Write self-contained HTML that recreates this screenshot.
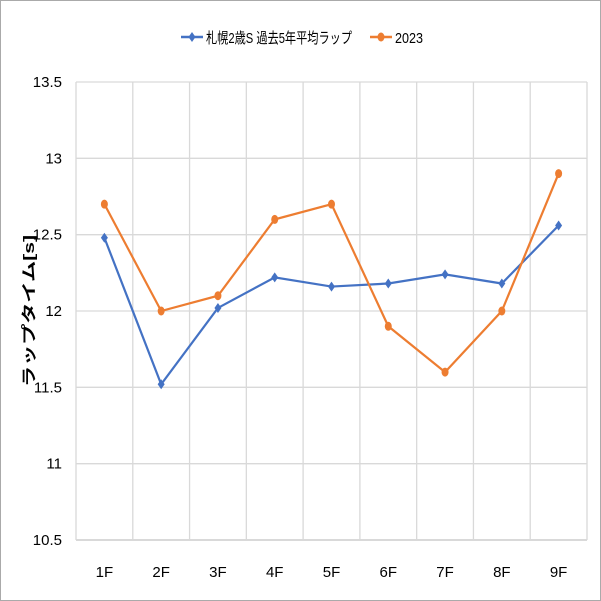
<!DOCTYPE html>
<html><head><meta charset="utf-8"><style>
body{margin:0;background:#fff}
svg{display:block;font-family:"Liberation Sans","Noto Sans CJK JP",sans-serif}
</style></head><body>
<svg id="c" width="601" height="601" viewBox="0 0 601 601">
<rect x="0.5" y="0.5" width="600" height="600" fill="#fff" stroke="#aaa"/>
<g id="grid"></g><g id="series"></g><g id="labels"></g>
<g>
 <g>
  <line x1="181" y1="37" x2="203" y2="37" stroke="#4472c4" stroke-width="2.5"/>
  <path d="M192 32 L195.5 37 L192 42 L188.5 37Z" fill="#4472c4"/>
  <text x="206" y="43" font-size="15" textLength="146" lengthAdjust="spacingAndGlyphs">札幌2歳S 過去5年平均ラップ</text>
 </g>
 <g>
  <line x1="370" y1="37" x2="392" y2="37" stroke="#ed7d31" stroke-width="2.5"/>
  <ellipse cx="381" cy="37" rx="3.5" ry="4.5" fill="#ed7d31"/>
  <text x="395" y="43" font-size="15" textLength="28" lengthAdjust="spacingAndGlyphs">2023</text>
 </g>
</g>
<text transform="translate(34 311) rotate(-90)" text-anchor="middle" font-size="15" font-weight="bold" textLength="152" lengthAdjust="spacingAndGlyphs">ラップタイム[s]</text>
</svg>
<script>
const categories=["1F","2F","3F","4F","5F","6F","7F","8F","9F"];
const avgValues=[12.48,11.52,12.02,12.22,12.16,12.18,12.24,12.18,12.56];
const values2023=[12.7,12.0,12.1,12.6,12.7,11.9,11.6,12.0,12.9];
const yTicks=[10.5,11,11.5,12,12.5,13,13.5];
const NS="http://www.w3.org/2000/svg";
const L=76,R=587,T=82,B=540,yMin=10.5,yMax=13.5;
const bw=(R-L)/categories.length;
const xs=i=>L+bw*(i+0.5);
const ys=v=>B-(v-yMin)/(yMax-yMin)*(B-T);
function mk(tag,attrs,parent){const e=document.createElementNS(NS,tag);for(const k in attrs)e.setAttribute(k,attrs[k]);parent.appendChild(e);return e;}
const grid=document.getElementById('grid'),labels=document.getElementById('labels'),series=document.getElementById('series');
yTicks.forEach(t=>{
 const l=mk('line',{x1:L,x2:R,y1:ys(t),y2:ys(t),stroke:'#d9d9d9','stroke-width':t===yMin?2:1.3},grid);
 
 
 const tx=mk('text',{x:L-14,y:ys(t)+5,'text-anchor':'end','font-size':15},labels);
 tx.textContent=t;
 
 
});
for(let i=0;i<=categories.length;i++){
 const l=mk('line',{x1:L+bw*i,x2:L+bw*i,y1:T,y2:B,stroke:'#d9d9d9','stroke-width':1.3},grid);
 
 
}
categories.forEach((c,i)=>{
 const tx=mk('text',{x:xs(i),y:577,'text-anchor':'middle','font-size':15},labels);
 tx.textContent=c;
 
 
});
function draw(vals,color,name,diamond){
 const p=mk('polyline',{points:vals.map((v,i)=>xs(i)+','+ys(v)).join(' '),fill:'none',stroke:color,'stroke-width':2.2},series);
 
 
 vals.forEach((v,i)=>{
  const x=xs(i),y=ys(v);
  const m=diamond?mk('path',{d:`M${x} ${y-5}L${x+3.5} ${y}L${x} ${y+5}L${x-3.5} ${y}Z`,fill:color},series)
   :mk('ellipse',{cx:x,cy:y,rx:3.5,ry:4.5,fill:color},series);
  
  
 });
}
draw(avgValues,'#4472c4','avg',true);
draw(values2023,'#ed7d31','2023',false);
</script>
</body></html>
